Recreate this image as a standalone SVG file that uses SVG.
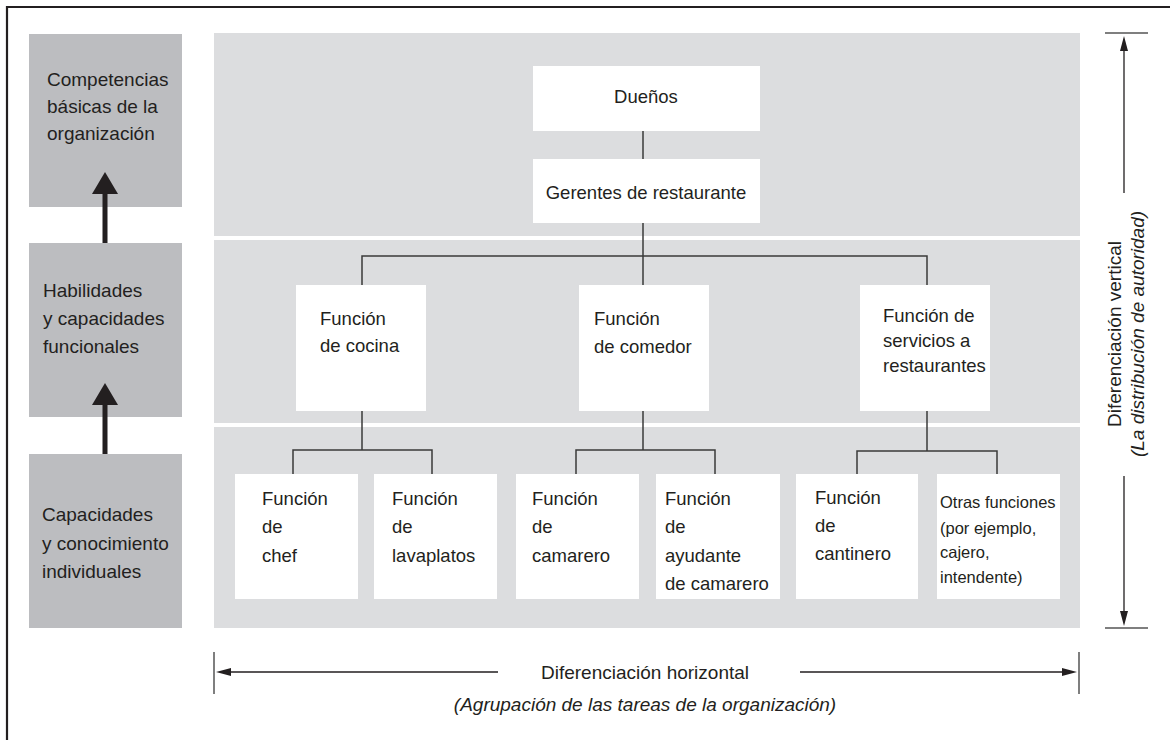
<svg xmlns="http://www.w3.org/2000/svg" width="1170" height="740" viewBox="0 0 1170 740">
<defs>
<style>
.t{font-family:"Liberation Sans",Arial,sans-serif;font-size:18.5px;fill:#231f20}
.l{font-family:"Liberation Sans",Arial,sans-serif;font-size:19px;fill:#231f20}
.s{font-family:"Liberation Sans",Arial,sans-serif;font-size:16.5px;fill:#231f20}
.i{font-style:italic}
.band{fill:#dcdddf}
.side{fill:#bcbdc0}
.box{fill:#ffffff}
.con{fill:none;stroke:#3a3a3a;stroke-width:1.5}
.dim{fill:none;stroke:#231f20;stroke-width:1.3}
.tick{fill:none;stroke:#555;stroke-width:1.5}
.head{fill:#231f20}
</style>
</defs>
<rect x="0" y="0" width="1170" height="740" fill="#ffffff"/>
<path d="M7,740 V7 H1170" fill="none" stroke="#231f20" stroke-width="2.2"/>

<g id="bands">
<rect class="band" x="214" y="33" width="866" height="203"/>
<rect class="band" x="214" y="240" width="866" height="183"/>
<rect class="band" x="214" y="427" width="866" height="201"/>
</g>

<g id="level-competencias">
<rect class="side" x="29" y="34" width="153" height="173"/>
<text class="l" x="47" y="86">Competencias</text>
<text class="l" x="47" y="113">básicas de la</text>
<text class="l" x="47" y="140">organización</text>
</g>
<g id="level-habilidades">
<rect class="side" x="29" y="243" width="153" height="174"/>
<text class="l" x="43" y="297">Habilidades</text>
<text class="l" x="43" y="325">y capacidades</text>
<text class="l" x="43" y="353">funcionales</text>
</g>
<g id="level-capacidades">
<rect class="side" x="29" y="454" width="153" height="174"/>
<text class="l" x="42" y="521">Capacidades</text>
<text class="l" x="42" y="550">y conocimiento</text>
<text class="l" x="42" y="578">individuales</text>
</g>

<g id="side-arrows">
<rect class="head" x="102.5" y="192" width="5" height="51"/>
<path class="head" d="M105,172 L118,194 L92,194 Z"/>
<rect class="head" x="102.5" y="402" width="5" height="52"/>
<path class="head" d="M105,383 L118,405 L92,405 Z"/>
</g>

<g id="connectors">
<path class="con" d="M643,131 V159"/>
<path class="con" d="M643,223 V285"/>
<path class="con" d="M362,285 V256 H927 V285"/>
<path class="con" d="M362,411 V450"/>
<path class="con" d="M293,474 V450 H432 V474"/>
<path class="con" d="M643,411 V450"/>
<path class="con" d="M576,474 V450 H715 V474"/>
<path class="con" d="M927,411 V451"/>
<path class="con" d="M857,474 V451 H997 V474"/>
</g>

<g id="duenos">
<rect class="box" x="533" y="66" width="227" height="65"/>
<text class="t" x="646" y="103" text-anchor="middle">Dueños</text>
</g>
<g id="gerentes">
<rect class="box" x="533" y="159" width="227" height="64"/>
<text class="t" x="646" y="199" text-anchor="middle">Gerentes de restaurante</text>
</g>

<g id="cocina">
<rect class="box" x="296" y="285" width="130" height="126"/>
<text class="t" x="320" y="325">Función</text>
<text class="t" x="320" y="352">de cocina</text>
</g>
<g id="comedor">
<rect class="box" x="579" y="285" width="130" height="126"/>
<text class="t" x="594" y="325">Función</text>
<text class="t" x="594" y="353">de comedor</text>
</g>
<g id="servicios">
<rect class="box" x="860" y="285" width="130" height="126"/>
<text class="t" x="883" y="322">Función de</text>
<text class="t" x="883" y="347">servicios a</text>
<text class="t" x="883" y="372">restaurantes</text>
</g>

<g id="chef">
<rect class="box" x="235" y="474" width="123" height="125"/>
<text class="t" x="262" y="505">Función</text>
<text class="t" x="262" y="533">de</text>
<text class="t" x="262" y="562">chef</text>
</g>
<g id="lavaplatos">
<rect class="box" x="374" y="474" width="123" height="125"/>
<text class="t" x="392" y="505">Función</text>
<text class="t" x="392" y="533">de</text>
<text class="t" x="392" y="562">lavaplatos</text>
</g>
<g id="camarero">
<rect class="box" x="516" y="474" width="123" height="125"/>
<text class="t" x="532" y="505">Función</text>
<text class="t" x="532" y="533">de</text>
<text class="t" x="532" y="562">camarero</text>
</g>
<g id="ayudante">
<rect class="box" x="656" y="474" width="124" height="125"/>
<text class="t" x="665" y="505">Función</text>
<text class="t" x="665" y="533">de</text>
<text class="t" x="665" y="562">ayudante</text>
<text class="t" x="665" y="590">de camarero</text>
</g>
<g id="cantinero">
<rect class="box" x="796" y="474" width="122" height="125"/>
<text class="t" x="815" y="504">Función</text>
<text class="t" x="815" y="532">de</text>
<text class="t" x="815" y="560">cantinero</text>
</g>
<g id="otras">
<rect class="box" x="937" y="474" width="123" height="125"/>
<text class="s" x="940" y="508">Otras funciones</text>
<text class="s" x="940" y="534">(por ejemplo,</text>
<text class="s" x="940" y="558">cajero,</text>
<text class="s" x="940" y="583">intendente)</text>
</g>

<g id="vertical-dimension">
<path class="tick" d="M1105,33 H1148 M1105,628 H1148"/>
<path class="dim" d="M1124,48 V193 M1124,476 V614"/>
<path class="head" d="M1124,36 L1128,51 L1120,51 Z"/>
<path class="head" d="M1124,626 L1128,611 L1120,611 Z"/>
<text class="l" transform="translate(1121,334) rotate(-90)" text-anchor="middle">Diferenciación vertical</text>
<text class="l i" transform="translate(1144,334) rotate(-90)" text-anchor="middle">(La distribución de autoridad)</text>
</g>

<g id="horizontal-dimension">
<path class="tick" d="M214,652 V694 M1079,652 V694"/>
<path class="dim" d="M229,672 H498 M800,672 H1065"/>
<path class="head" d="M216,672 L231,668 L231,676 Z"/>
<path class="head" d="M1077,672 L1062,668 L1062,676 Z"/>
<text class="l" x="645" y="679" text-anchor="middle">Diferenciación horizontal</text>
<text class="l i" x="645" y="711" text-anchor="middle">(Agrupación de las tareas de la organización)</text>
</g>
</svg>
